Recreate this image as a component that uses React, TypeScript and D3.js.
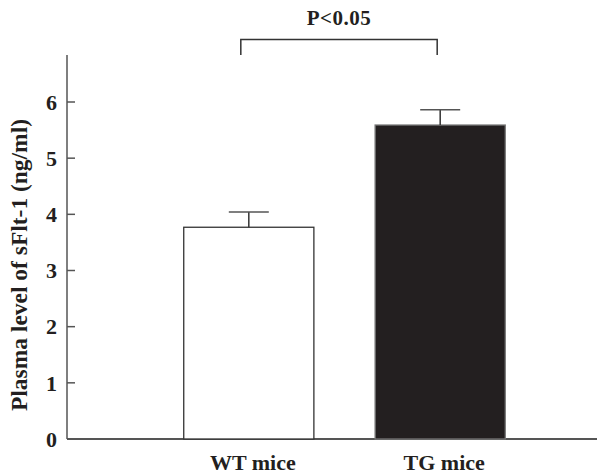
import React, { useEffect, useRef } from "react";
import * as d3 from "d3";

const groups = ["WT mice", "TG mice"];
const means = [3.77, 5.59];
const errors = [0.27, 0.27];
const yTicks = [0, 1, 2, 3, 4, 5, 6];
const yLabel = "Plasma level of sFlt-1 (ng/ml)";
const sigLabel = "P<0.05";

const App = () => {
  const svgRef = useRef<SVGSVGElement>(null);

  useEffect(() => {
    const svg = d3.select(svgRef.current);
    const width = 597;
    const font = "'Liberation Serif', 'Times New Roman', serif";
    const axisColor = "#555";
    const ink = "#231f20";

    svg.selectAll("*").remove();

    const x = d3.scaleBand()
      .domain(groups)
      .range([67, 622])
      .paddingInner(0.32)
      .paddingOuter(0.61);

    const y = d3.scaleLinear()
      .domain([0, 6])
      .range([439, 102]);

    // axes
    svg.append("line")
      .attr("x1", 67).attr("x2", width)
      .attr("y1", y(0)).attr("y2", y(0))
      .attr("stroke", axisColor).attr("stroke-width", 2);
    svg.append("line")
      .attr("x1", 67).attr("x2", 67)
      .attr("y1", 55).attr("y2", y(0))
      .attr("stroke", axisColor).attr("stroke-width", 1.5);

    svg.selectAll("line.tick")
      .data(yTicks.filter(d => d > 0))
      .join("line")
      .attr("class", "tick")
      .attr("x1", 67).attr("x2", 75)
      .attr("y1", d => y(d)).attr("y2", d => y(d))
      .attr("stroke", axisColor).attr("stroke-width", 1.5);

    svg.selectAll("text.tickLabel")
      .data(yTicks)
      .join("text")
      .attr("class", "tickLabel")
      .attr("x", 57)
      .attr("y", d => y(d))
      .attr("dy", "0.35em")
      .attr("text-anchor", "end")
      .attr("font-family", font)
      .attr("font-weight", "bold")
      .attr("font-size", 22)
      .attr("fill", ink)
      .text(d => d);

    // bars
    svg.selectAll("rect.bar")
      .data(means)
      .join("rect")
      .attr("class", "bar")
      .attr("x", (_, i) => x(groups[i])!)
      .attr("y", d => y(d))
      .attr("width", x.bandwidth())
      .attr("height", d => y(0) - y(d))
      .attr("fill", (_, i) => (i === 0 ? "#fff" : ink))
      .attr("stroke", (_, i) => (i === 0 ? "#333" : "#777"))
      .attr("stroke-width", 1.3);

    // error bars
    const cx = (i: number) => x(groups[i])! + x.bandwidth() / 2;
    means.forEach((m, i) => {
      svg.append("line")
        .attr("x1", cx(i)).attr("x2", cx(i))
        .attr("y1", y(m)).attr("y2", y(m + errors[i]))
        .attr("stroke", "#333").attr("stroke-width", 1.5);
      svg.append("line")
        .attr("x1", cx(i) - 20).attr("x2", cx(i) + 20)
        .attr("y1", y(m + errors[i])).attr("y2", y(m + errors[i]))
        .attr("stroke", "#555").attr("stroke-width", 1.5);
    });

    // x labels
    svg.selectAll("text.xLabel")
      .data(groups)
      .join("text")
      .attr("class", "xLabel")
      .attr("x", d => x(d)! + x.bandwidth() / 2 + 4)
      .attr("y", 470)
      .attr("text-anchor", "middle")
      .attr("font-family", font)
      .attr("font-weight", "bold")
      .attr("font-size", 22)
      .attr("fill", ink)
      .text(d => d);

    // y label
    svg.append("text")
      .attr("transform", "translate(27, 265) rotate(-90)")
      .attr("text-anchor", "middle")
      .attr("font-family", font)
      .attr("font-weight", "bold")
      .attr("font-size", 23)
      .attr("fill", ink)
      .attr("textLength", 292)
      .attr("lengthAdjust", "spacingAndGlyphs")
      .text(yLabel);

    // significance bracket
    const bx1 = cx(0) - 8;
    const bx2 = cx(1) - 3;
    svg.append("path")
      .attr("d", `M${bx1},55 V39.5 H${bx2} V55`)
      .attr("fill", "none")
      .attr("stroke", "#333")
      .attr("stroke-width", 1.5);
    svg.append("text")
      .attr("x", (bx1 + bx2) / 2)
      .attr("y", 25)
      .attr("text-anchor", "middle")
      .attr("font-family", font)
      .attr("font-weight", "bold")
      .attr("font-size", 21)
      .attr("letter-spacing", 0.5)
      .attr("fill", ink)
      .text(sigLabel);
  }, []);

  return (
    <svg
      ref={svgRef}
      width={597}
      height={475}
      style={{ position: "absolute", left: 0, top: 0, background: "#fff" }}
    />
  );
};

export default App;
